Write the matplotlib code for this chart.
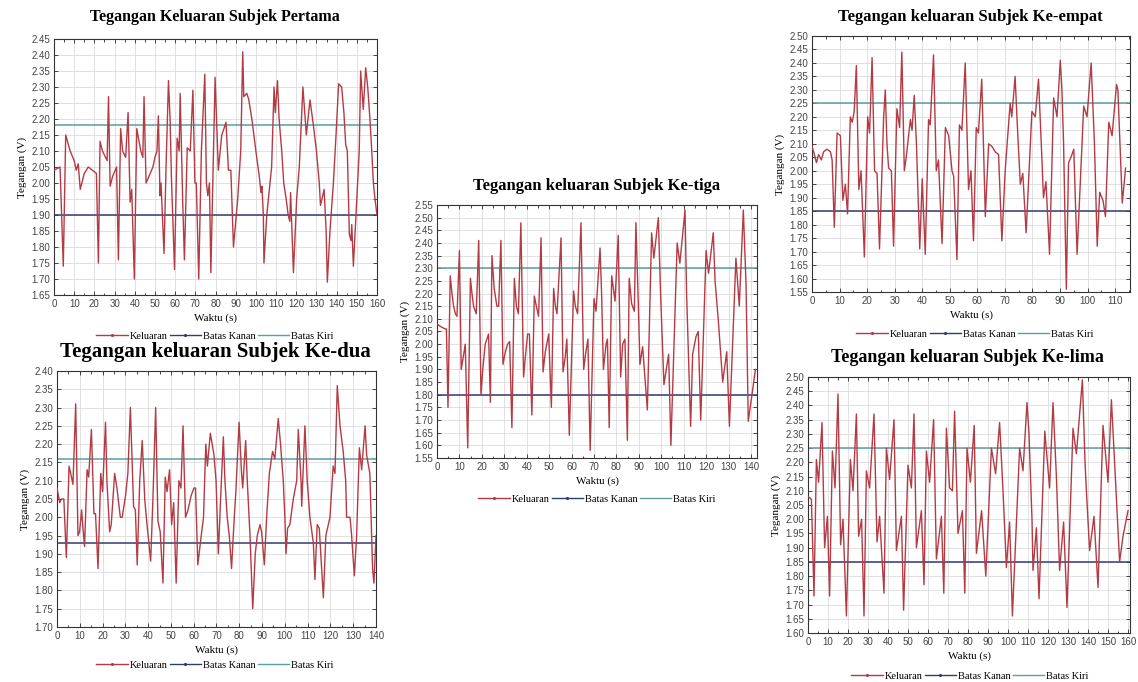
import matplotlib
matplotlib.use("Agg")
import matplotlib.pyplot as plt
from matplotlib.lines import Line2D
import numpy as np

# ---- data ----
t1 = [0, 3.0, 4.6, 5.8, 8, 10, 11, 12, 13, 15, 17, 19, 21, 22, 22.8, 24, 26.3, 27, 27.8, 29,
      31, 31.9, 33, 34, 35.5, 36.7, 37.7, 38.5, 39.8, 41, 43, 44, 44.6, 45.6, 47, 49, 50, 51,
      51.7, 52.5, 53, 54.5, 55.5, 56.7, 57.5, 58.2, 59.7, 61, 62, 62.5, 63.8, 64.6, 66, 67.5,
      68.8, 69.8, 70.5, 71.7, 73, 74.7, 75.5, 76.2, 77, 77.7, 79.8, 81.4, 83.1, 84.2, 85.2,
      86.4, 87.6, 88.9, 90, 91, 92.5, 93.5, 94, 95.5, 96.5, 98, 100, 101.7, 102.5, 103, 103.7,
      104, 105.4, 106.7, 107.8, 109, 109.6, 110.7, 111.5, 112.8, 113.8, 115, 116, 116.8, 117.2,
      118.6, 120.2, 121.5, 123.3, 125, 126.8, 128.5, 130, 131.4, 132, 133.8, 134.8, 135.4,
      136.7, 138.4, 139.7, 141, 142.5, 143.6, 144.5, 145.3, 146.3, 147.1, 147.5, 148.3, 150,
      151.2, 151.9, 153.2, 154.4, 155.4, 156.5, 157.4, 158.2, 159, 160]
v1 = [2.04, 2.05, 1.74, 2.15, 2.10, 2.07, 2.04, 2.06, 1.98, 2.03, 2.05, 2.04, 2.03, 1.75, 2.13,
      2.10, 2.07, 2.27, 1.99, 2.02, 2.05, 1.76, 2.17, 2.10, 2.08, 2.22, 1.94, 1.98, 1.70, 2.17,
      2.10, 2.08, 2.27, 2.00, 2.02, 2.05, 2.08, 2.10, 2.21, 1.96, 2.00, 1.78, 2.05, 2.32, 2.20,
      2.01, 1.73, 2.14, 2.10, 2.28, 1.93, 1.76, 2.11, 2.10, 2.29, 2.00, 2.00, 1.70, 2.10, 2.34,
      2.00, 1.96, 2.00, 1.72, 2.33, 2.04, 2.15, 2.17, 2.19, 2.04, 2.04, 1.80, 1.88, 1.95, 2.10,
      2.41, 2.27, 2.28, 2.26, 2.20, 2.10, 2.02, 1.97, 1.99, 1.90, 1.75, 1.90, 1.98, 2.05, 2.30,
      2.22, 2.32, 2.20, 2.10, 2.00, 1.95, 1.90, 1.88, 1.97, 1.72, 1.95, 2.05, 2.30, 2.15, 2.26,
      2.18, 2.10, 2.00, 1.93, 1.98, 1.85, 1.69, 1.85, 2.00, 2.15, 2.31, 2.30, 2.22, 2.12, 2.10,
      1.84, 1.82, 1.87, 1.74, 1.95, 2.10, 2.35, 2.23, 2.36, 2.30, 2.20, 2.10, 2.00, 1.95, 1.90]

t2 = [0, 1.2, 1.9, 3.0, 4.1, 5.3, 6.0, 7.0, 8.2, 9.2, 9.9, 10.8, 11.4, 12.1, 13.2, 13.9, 15.1,
      16.2, 16.9, 18.0, 19.2, 20.0, 21.3, 21.9, 23.1, 23.8, 25.3, 26.3, 27.8, 28.6, 30.1, 31.1,
      32.2, 33.6, 34.4, 35.2, 36.3, 37.4, 38.5, 39.2, 41.1, 42.1, 43.3, 44.3, 45.3, 46.5, 47.5,
      48.3, 49.4, 50.3, 51.2, 52.3, 53.5, 54.4, 55.3, 56.4, 57.5, 58.9, 60.1, 60.8, 61.8, 63.3,
      64.3, 65.3, 66.0, 67.3, 68.9, 69.8, 70.3, 70.8, 71.8, 73.0, 73.7, 74.7, 75.6, 76.6, 77.8,
      78.5, 79.9, 81.0, 81.5, 82.8, 83.5, 84.7, 85.9, 87.0, 87.9, 89.1, 89.8, 91.0, 92.0, 93.2,
      94.6, 95.6, 97.1, 98.1, 99.3, 100.0, 100.5, 101.2, 102.2, 103.7, 105.2, 105.9, 107.1,
      107.4, 108.8, 109.8, 111.0, 112.5, 113.2, 114.2, 115.1, 116.9, 118.0, 119.8, 121.2, 122.0,
      123.0, 124.2, 125.6, 126.7, 127.1, 128.6, 129.3, 130.5, 131.5, 132.7, 133.7, 135.2,
      135.9, 137.3, 138.5, 139.1, 140.0]
v2 = [2.08, 2.04, 2.05, 2.05, 1.89, 2.14, 2.12, 2.09, 2.31, 1.95, 1.96, 2.02, 1.97, 1.92, 2.13,
      2.11, 2.24, 2.01, 2.01, 1.86, 2.12, 2.07, 2.26, 2.10, 1.96, 1.98, 2.12, 2.08, 2.00, 2.00,
      2.06, 2.12, 2.30, 2.03, 2.02, 1.87, 2.10, 2.21, 2.05, 2.00, 1.88, 2.05, 2.30, 1.99, 1.96,
      1.82, 2.11, 2.07, 2.13, 1.98, 2.04, 1.82, 2.10, 2.08, 2.25, 2.00, 2.02, 2.06, 2.08, 2.08,
      1.87, 1.95, 2.00, 2.20, 2.14, 2.23, 2.17, 2.10, 2.00, 1.90, 2.05, 2.22, 2.10, 2.00, 1.95,
      1.86, 2.00, 2.07, 2.26, 2.12, 2.08, 2.21, 2.10, 1.95, 1.75, 1.90, 1.95, 1.98, 1.96, 1.87,
      2.00, 2.12, 2.18, 2.16, 2.27, 2.20, 2.10, 2.00, 1.90, 1.97, 1.98, 2.05, 2.10, 2.24, 2.10,
      2.03, 2.25, 2.10, 2.00, 1.93, 1.83, 1.98, 1.97, 1.78, 1.95, 2.00, 2.14, 2.12, 2.36, 2.25,
      2.18, 2.10, 2.00, 2.00, 1.95, 1.84, 1.95, 2.19, 2.13, 2.25, 2.17, 2.12, 1.86, 1.82, 1.95]

t3 = [0, 1.5, 3.7, 4.2, 4.9, 5.9, 6.7, 7.4, 8.2, 8.9, 10.0, 10.8, 11.9, 12.6, 13.7, 14.9, 15.6,
      16.3, 17.5, 18.6, 19.6, 20.4, 21.5, 23.0, 23.8, 24.5, 25.5, 26.7, 27.5, 28.5, 29.4, 30.5,
      31.5, 32.4, 33.4, 34.5, 35.4, 36.3, 37.4, 38.6, 39.4, 40.4, 41.2, 42.3, 43.4, 44.3, 45.3,
      46.4, 47.3, 48.3, 49.8, 51.0, 52.0, 52.8, 53.5, 55.3, 56.2, 57.2, 57.9, 59.0, 60.9, 61.7,
      62.7, 64.2, 65.4, 66.4, 67.3, 68.3, 70.0, 70.9, 72.7, 73.4, 74.2, 75.4, 76.0, 76.8, 77.9,
      79.4, 80.8, 81.9, 82.8, 83.8, 84.9, 85.7, 86.8, 88.0, 88.7, 89.8, 90.5, 91.7, 93.8, 95.7,
      96.7, 98.7, 99.7, 101.2, 103.3, 104.3, 107.1, 108.3, 110.6, 111.3, 113.1, 114.0, 115.5,
      116.5, 117.6, 120.0, 121.1, 123.2, 124.0, 125.4, 127.4, 129.2, 130.4, 133.3, 134.8,
      136.6, 137.8, 138.8, 140.3, 142.0]
v3 = [2.08, 2.07, 2.06, 2.06, 1.75, 2.27, 2.20, 2.15, 2.12, 2.11, 2.37, 1.90, 1.96, 2.00, 1.59,
      2.26, 2.20, 2.15, 2.12, 2.41, 1.80, 1.90, 2.00, 2.04, 1.77, 2.35, 2.22, 2.15, 2.15, 2.41,
      1.92, 1.97, 2.00, 2.01, 1.67, 2.26, 2.15, 2.12, 2.48, 1.87, 1.95, 2.04, 2.04, 1.72, 2.19,
      2.15, 2.11, 2.42, 1.89, 1.97, 2.04, 1.75, 2.22, 2.15, 2.12, 2.42, 1.89, 1.95, 2.02, 1.64,
      2.21, 2.15, 2.12, 2.48, 1.90, 1.97, 2.02, 1.58, 2.18, 2.13, 2.38, 2.20, 1.90, 2.00, 2.02,
      1.67, 2.27, 2.17, 2.43, 1.87, 2.00, 2.02, 1.62, 2.26, 2.16, 2.13, 2.48, 2.15, 1.92, 1.99,
      1.74, 2.44, 2.34, 2.50, 2.20, 1.84, 1.96, 1.60, 2.40, 2.32, 2.53, 2.20, 1.675, 1.96, 2.03,
      2.05, 1.70, 2.37, 2.28, 2.44, 2.25, 2.10, 1.85, 1.97, 1.675, 2.34, 2.15, 2.53, 2.24, 1.695,
      1.79, 1.90]

t4 = [0, 0.6, 1.6, 2.4, 3.4, 4.2, 5.4, 6.7, 7.3, 8.1, 9.1, 10.3, 11.2, 12.1, 12.9, 13.9, 14.6,
      15.3, 16.1, 17.0, 17.8, 19.0, 20.2, 20.9, 21.8, 22.7, 23.6, 24.5, 26.0, 26.6, 27.2, 27.8,
      28.8, 29.6, 30.8, 31.8, 32.6, 33.5, 34.2, 35.7, 36.3, 37.1, 37.9, 39.1, 40.0, 41.1, 42.3,
      42.9, 44.1, 45.1, 45.9, 47.2, 48.4, 49.6, 50.8, 51.4, 52.6, 53.5, 54.4, 55.6, 56.8, 57.7,
      58.6, 59.6, 60.4, 61.6, 62.9, 64.1, 65.3, 66.5, 67.7, 68.9, 70.1, 71.9, 72.5, 73.7, 74.6,
      75.6, 76.5, 77.7, 79.8, 81.0, 82.2, 83.2, 84.0, 84.9, 86.2, 87.7, 88.9, 90.1, 90.7, 91.3,
      92.3, 93.1, 94.0, 95.0, 96.2, 98.6, 99.8, 101.3, 102.5, 103.5, 104.4, 105.6, 106.5,
      107.7, 108.9, 110.5, 111.0, 112.6, 113.8]
v4 = [2.09, 2.07, 2.03, 2.06, 2.04, 2.07, 2.08, 2.07, 2.04, 1.79, 2.14, 2.13, 1.89, 1.95, 1.84,
      2.20, 2.18, 2.22, 2.39, 1.93, 2.00, 1.68, 2.20, 2.14, 2.42, 2.00, 1.99, 1.71, 2.20, 2.30,
      2.10, 2.01, 2.00, 1.72, 2.23, 2.16, 2.44, 2.00, 2.05, 2.19, 2.15, 2.28, 2.10, 1.71, 1.97,
      1.69, 2.19, 2.17, 2.43, 2.00, 2.04, 1.73, 2.16, 2.13, 2.00, 1.98, 1.67, 2.17, 2.15, 2.40,
      1.93, 2.00, 1.74, 2.16, 2.14, 2.34, 1.83, 2.10, 2.09, 2.07, 2.06, 1.74, 2.00, 2.25, 2.20,
      2.35, 2.15, 1.95, 1.99, 1.77, 2.22, 2.20, 2.34, 2.10, 1.90, 1.96, 1.69, 2.27, 2.20, 2.41,
      2.30, 2.10, 1.56, 2.03, 2.05, 2.08, 1.69, 2.24, 2.20, 2.40, 2.10, 1.72, 1.92, 1.89, 1.83,
      2.18, 2.13, 2.32, 2.30, 1.88, 2.01]

t5 = [0, 1.7, 3.0, 4.2, 5.3, 7.0, 8.3, 9.7, 10.8, 12.2, 13.5, 15.0, 16.3, 17.5, 19.2, 21.2, 22.5,
      24.2, 25.3, 26.8, 28.0, 29.2, 30.8, 33.0, 34.5, 35.8, 38.0, 39.2, 40.8, 43.0, 44.2, 46.7,
      47.8, 50.0, 51.7, 53.0, 54.2, 56.7, 58.0, 59.2, 60.8, 62.8, 64.2, 66.7, 67.9, 69.2, 70.8,
      72.2, 73.3, 75.0, 77.2, 78.4, 79.5, 81.2, 83.1, 84.2, 86.8, 88.9, 91.7, 93.8, 95.8, 97.5,
      99.2, 100.8, 102.2, 105.8, 107.5, 109.5, 110.5, 112.0, 112.5, 114.2, 115.5, 118.4, 120.8,
      122.5, 124.2, 125.8, 127.8, 129.5, 132.5, 134.2, 137.2, 138.5, 139.2, 140.8, 143.0,
      145.0, 147.5, 150.0, 151.7, 153.3, 155.8, 157.5, 160]
v5 = [2.08, 2.07, 1.73, 2.21, 2.13, 2.34, 1.90, 2.01, 1.73, 2.24, 2.11, 2.44, 1.91, 2.00, 1.66,
      2.21, 2.10, 2.37, 1.94, 2.00, 1.66, 2.17, 2.11, 2.37, 1.92, 2.01, 1.74, 2.25, 2.14, 2.35,
      1.89, 2.01, 1.68, 2.19, 2.11, 2.37, 1.90, 2.03, 1.77, 2.24, 2.13, 2.35, 1.86, 2.01, 1.74,
      2.32, 2.11, 2.10, 2.38, 1.95, 2.03, 1.74, 2.25, 2.13, 2.33, 1.88, 2.03, 1.80, 2.25, 2.16,
      2.34, 2.10, 1.83, 1.99, 1.66, 2.25, 2.17, 2.41, 2.30, 2.00, 1.82, 1.97, 1.72, 2.31, 2.11,
      2.41, 2.15, 1.82, 1.99, 1.69, 2.32, 2.23, 2.49, 2.20, 2.10, 1.89, 2.01, 1.76, 2.33, 2.13,
      2.42, 2.20, 1.85, 1.94, 2.03]

# batas kiri (upper, teal) / batas kanan (lower, navy) per subject
kiri = [2.18, 2.16, 2.30, 2.25, 2.25]
kanan = [1.90, 1.93, 1.80, 1.85, 1.85]

titles = ["Tegangan Keluaran Subjek Pertama", "Tegangan keluaran Subjek Ke-dua",
          "Tegangan keluaran Subjek Ke-tiga", "Tegangan keluaran Subjek Ke-empat",
          "Tegangan keluaran Subjek Ke-lima"]

RED = "#b43a44"
TEAL = "#5b9ea3"
NAVY = "#2f3c70"
W, H = 1138, 682

# panel layout in pixels: left, top, right, bottom, xlim, ylim, title (x, y, size), legend (x, y)
panels = [
    dict(t=t1, v=v1, box=(54, 39, 377, 295), xlim=(0, 160), ylim=(1.65, 2.45),
         title=(215, 17, 11.5), leg=(215, 336)),
    dict(t=t2, v=v2, box=(57, 371, 376, 627), xlim=(0, 140), ylim=(1.70, 2.40),
         title=(215, 352, 15), leg=(215, 665)),
    dict(t=t3, v=v3, box=(437, 205, 757, 458), xlim=(0, 142.7), ylim=(1.55, 2.55),
         title=(597, 186, 12), leg=(597, 499)),
    dict(t=t4, v=v4, box=(812, 36, 1130, 292), xlim=(0, 115.4), ylim=(1.55, 2.50),
         title=(970, 17, 12), leg=(975, 334)),
    dict(t=t5, v=v5, box=(808, 377, 1130, 633), xlim=(0, 161), ylim=(1.60, 2.50),
         title=(967, 358, 13), leg=(970, 676)),
]

plt.rcParams["font.family"] = ["Liberation Sans", "DejaVu Sans"]
SERIF = "Liberation Serif"

fig = plt.figure(figsize=(W / 100, H / 100), dpi=100)
fig.patch.set_facecolor("white")

for i, p in enumerate(panels):
    l, tp, r, b = p["box"]
    ax = fig.add_axes([l / W, 1 - b / H, (r - l) / W, (b - tp) / H])
    ax.plot(p["t"], p["v"], color=RED, lw=1.0, zorder=3)
    ax.axhline(kiri[i], color=TEAL, lw=1.1, zorder=2)
    ax.axhline(kanan[i], color=NAVY, lw=1.1, zorder=2)
    ax.set_xlim(*p["xlim"])
    ax.set_ylim(*p["ylim"])

    ax.set_xticks(np.arange(0, p["xlim"][1] + 0.1, 10))
    ax.set_xticks(np.arange(0, p["xlim"][1] + 0.1, 5), minor=True)
    ax.set_yticks(np.arange(p["ylim"][0], p["ylim"][1] + 0.001, 0.05))
    ax.yaxis.set_major_formatter(matplotlib.ticker.FormatStrFormatter("%.2f"))
    ax.grid(True, which="major", color="#dcdcdc", lw=0.6, zorder=0)
    ax.tick_params(which="both", direction="in", top=True, right=True,
                   labelsize=7, colors="#444444", length=3, width=0.7, pad=3)
    ax.tick_params(which="minor", length=1.8)
    for s in ax.spines.values():
        s.set_color("#333333")
        s.set_linewidth(0.8)

    ax.set_xlabel("Waktu (s)", family=SERIF, fontsize=8, labelpad=3)
    ax.set_ylabel("Tegangan (V)", family=SERIF, fontsize=8, labelpad=3)

    tx, ty, ts = p["title"]
    fig.text(tx / W, 1 - ty / H, titles[i], ha="center", va="center",
             family=SERIF, fontweight="bold", fontsize=ts)

    handles = [
        Line2D([], [], color=RED, lw=1, marker=".", markersize=2.5),
        Line2D([], [], color=NAVY, lw=1, marker=".", markersize=2.5),
        Line2D([], [], color=TEAL, lw=1),
    ]
    lx, ly = p["leg"]
    fig.legend(handles, ["Keluaran", "Batas Kanan", "Batas Kiri"], loc="center",
               bbox_to_anchor=(lx / W, 1 - ly / H), ncol=3, frameon=False,
               prop={"family": SERIF, "size": 7.5}, handlelength=3,
               handletextpad=0.2, columnspacing=0.2)

fig.savefig("out.png", dpi=100, facecolor="white")
